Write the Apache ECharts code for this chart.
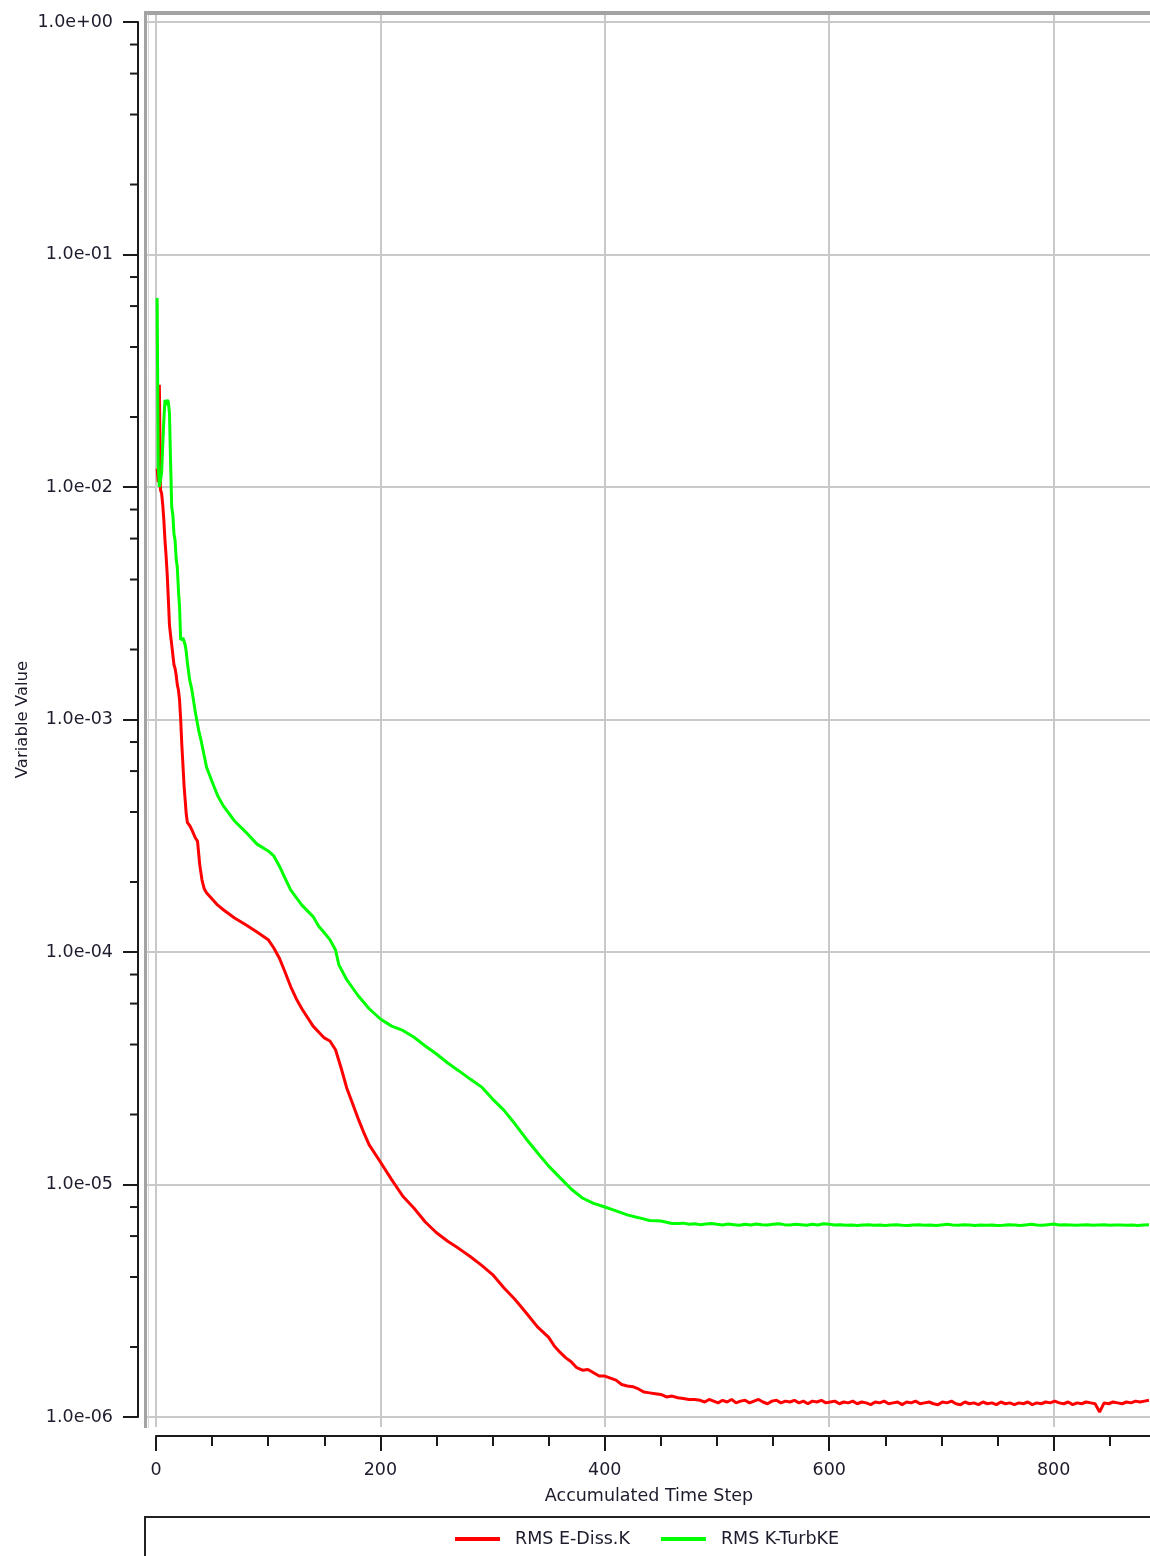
<!DOCTYPE html>
<html><head><meta charset="utf-8">
<script src="https://cdn.jsdelivr.net/npm/echarts@6/dist/echarts.min.js"></script>
<style>html,body{margin:0;padding:0;background:#fff}#c{width:1150px;height:1556px}</style>
</head><body><div id="c"></div>
<script>
const seriesNames = ['RMS E-Diss.K', 'RMS K-TurbKE'];
const xAxisTitle = 'Accumulated Time Step';
const yAxisTitle = 'Variable Value';

const redSteps = [1,2,3,4,5,6,7,8,9,10,11,12,13,14,15,16,17,18,19,20,21,22,23,24,25,26,27,28,30,32,35,37,39,41,43,45,50,55,60,70,80,90,100,105,110,115,120,125,130,140,150,155,160,165,170,175,180,185,190,200,210,220,230,240,250,260,270,280,290,300,310,320,330,340,350,355,360,365,370,375,380,385,390,395,400,405,410,415,420,425,430,435,440,445,450,455,460,465,470,475,480,
485,489,493,497,501,505,509,513,517,521,
525,529,533,537,541,545,549,553,557,561,
565,569,573,577,581,585,589,593,597,601,
605,609,613,617,621,625,629,633,637,641,
645,649,653,657,661,665,669,673,677,681,
685,689,693,697,701,705,709,713,717,721,
725,729,733,737,741,745,749,753,757,761,
765,769,773,777,781,785,789,793,797,801,
805,809,813,817,821,825,829,833,837,841,
845,849,853,857,861,865,869,873,877,881,
885];
const redValues = [1.2e-2,1.05e-2,2.75e-2,9.7e-3,9.4e-3,8.4e-3,7.2e-3,5.9e-3,5.05e-3,4.2e-3,3.3e-3,2.55e-3,2.3e-3,2.1e-3,1.9e-3,1.72e-3,1.66e-3,1.55e-3,1.41e-3,1.34e-3,1.21e-3,1.0e-3,7.8e-4,6.4e-4,5.2e-4,4.5e-4,3.9e-4,3.6e-4,3.5e-4,3.35e-4,3.1e-4,3.0e-4,2.37e-4,2.04e-4,1.87e-4,1.8e-4,1.69e-4,1.59e-4,1.52e-4,1.4e-4,1.31e-4,1.22e-4,1.13e-4,1.04e-4,9.4e-5,8.2e-5,7.1e-5,6.3e-5,5.7e-5,4.8e-5,4.27e-5,4.14e-5,3.8e-5,3.17e-5,2.6e-5,2.24e-5,1.93e-5,1.68e-5,1.48e-5,1.25e-5,1.05e-5,8.9e-6,7.9e-6,6.9e-6,6.2e-6,5.7e-6,5.3e-6,4.9e-6,4.5e-6,4.1e-6,3.6e-6,3.2e-6,2.8e-6,2.44e-6,2.2e-6,2.02e-6,1.9e-6,1.8e-6,1.73e-6,1.63e-6,1.59e-6,1.6e-6,1.55e-6,1.5e-6,1.5e-6,1.47e-6,1.44e-6,1.38e-6,1.36e-6,1.35e-6,1.32e-6,1.28e-6,1.27e-6,1.26e-6,1.25e-6,1.22e-6,1.23e-6,1.21e-6,1.2e-6,1.19e-6,1.19e-6,
1.18e-6,1.16e-6,1.19e-6,1.17e-6,1.15e-6,1.18e-6,1.16e-6,1.19e-6,1.15e-6,1.17e-6,
1.18e-6,1.15e-6,1.17e-6,1.19e-6,1.16e-6,1.14e-6,1.17e-6,1.18e-6,1.15e-6,1.17e-6,
1.16e-6,1.18e-6,1.15e-6,1.17e-6,1.14e-6,1.17e-6,1.16e-6,1.18e-6,1.15e-6,1.16e-6,
1.17e-6,1.14e-6,1.16e-6,1.15e-6,1.17e-6,1.14e-6,1.16e-6,1.15e-6,1.13e-6,1.16e-6,
1.15e-6,1.17e-6,1.14e-6,1.15e-6,1.16e-6,1.13e-6,1.16e-6,1.15e-6,1.17e-6,1.14e-6,
1.15e-6,1.16e-6,1.14e-6,1.13e-6,1.16e-6,1.15e-6,1.17e-6,1.14e-6,1.13e-6,1.16e-6,
1.14e-6,1.15e-6,1.13e-6,1.16e-6,1.14e-6,1.15e-6,1.13e-6,1.16e-6,1.14e-6,1.15e-6,
1.13e-6,1.15e-6,1.14e-6,1.16e-6,1.13e-6,1.15e-6,1.14e-6,1.16e-6,1.15e-6,1.17e-6,
1.15e-6,1.14e-6,1.16e-6,1.13e-6,1.15e-6,1.14e-6,1.16e-6,1.15e-6,1.14e-6,1.05e-6,
1.15e-6,1.14e-6,1.16e-6,1.15e-6,1.14e-6,1.16e-6,1.15e-6,1.17e-6,1.16e-6,1.17e-6,
1.18e-6];

const greenSteps = [1,2,3,4,5,6,7,8,9,10,11,12,13,14,15,16,17,18,19,20,21,22,24,26,27,28,30,32,35,38,40,45,50,55,60,70,80,90,100,105,110,115,120,130,140,145,150,155,160,163,170,180,190,200,210,220,230,240,250,260,270,280,290,300,310,320,330,340,350,360,370,380,390,400,410,420,430,440,450,460,
465,470,475,480,485,490,495,500,505,510,515,520,525,530,535,540,545,550,555,560,565,570,575,580,585,590,595,600,605,610,615,620,625,630,635,640,645,650,655,660,665,670,675,680,685,690,695,700,705,710,715,720,725,730,735,740,745,750,755,760,765,770,775,780,785,790,795,800,805,810,815,820,825,830,835,840,845,850,855,860,865,870,875,880,885];
const greenValues = [6.5e-2,1.22e-2,1.0e-2,1.07e-2,1.15e-2,1.52e-2,1.94e-2,2.37e-2,2.25e-2,2.37e-2,2.32e-2,2.08e-2,1.27e-2,8.2e-3,7.6e-3,6.3e-3,5.9e-3,4.9e-3,4.5e-3,3.6e-3,3.05e-3,2.2e-3,2.24e-3,2.09e-3,1.95e-3,1.75e-3,1.48e-3,1.34e-3,1.08e-3,9.0e-4,8.2e-4,6.25e-4,5.4e-4,4.7e-4,4.25e-4,3.66e-4,3.28e-4,2.91e-4,2.72e-4,2.59e-4,2.34e-4,2.08e-4,1.85e-4,1.59e-4,1.42e-4,1.29e-4,1.21e-4,1.13e-4,1.02e-4,8.8e-5,7.6e-5,6.5e-5,5.7e-5,5.15e-5,4.8e-5,4.6e-5,4.3e-5,3.94e-5,3.64e-5,3.33e-5,3.08e-5,2.84e-5,2.63e-5,2.33e-5,2.09e-5,1.82e-5,1.57e-5,1.37e-5,1.2e-5,1.07e-5,9.56e-6,8.75e-6,8.3e-6,8.0e-6,7.7e-6,7.4e-6,7.2e-6,7.0e-6,6.97e-6,6.8e-6,
6.8e-6,6.82e-6,6.75e-6,6.78e-6,6.72e-6,6.76e-6,6.8e-6,6.74e-6,6.7e-6,6.76e-6,6.72e-6,6.68e-6,6.74e-6,6.7e-6,6.76e-6,6.72e-6,6.7e-6,6.74e-6,6.78e-6,6.72e-6,6.7e-6,6.74e-6,6.72e-6,6.68e-6,6.74e-6,6.7e-6,6.78e-6,6.74e-6,6.7e-6,6.72e-6,6.68e-6,6.7e-6,6.66e-6,6.7e-6,6.72e-6,6.68e-6,6.7e-6,6.66e-6,6.7e-6,6.72e-6,6.68e-6,6.66e-6,6.7e-6,6.72e-6,6.68e-6,6.7e-6,6.66e-6,6.7e-6,6.74e-6,6.7e-6,6.68e-6,6.72e-6,6.7e-6,6.66e-6,6.7e-6,6.68e-6,6.7e-6,6.66e-6,6.68e-6,6.72e-6,6.7e-6,6.66e-6,6.7e-6,6.74e-6,6.7e-6,6.68e-6,6.72e-6,6.76e-6,6.7e-6,6.72e-6,6.7e-6,6.68e-6,6.7e-6,6.72e-6,6.68e-6,6.7e-6,6.72e-6,6.68e-6,6.7e-6,6.7e-6,6.68e-6,6.7e-6,6.66e-6,6.7e-6,6.72e-6];

const yMinorTickValues = [0.8,0.6,0.4,0.2,0.08,0.06,0.04,0.02,0.008,0.006,0.004,0.002,8e-4,6e-4,4e-4,2e-4,8e-5,6e-5,4e-5,2e-5,8e-6,6e-6,4e-6,2e-6];

const FONT = 'DejaVu Sans';
const TXT = '#1c1c2c';
const AX = '#1a1a1a';
const GRIDC = '#c9c9c9';

function fmtExp(v) {
  const parts = v.toExponential(1).split('e');
  const n = parseInt(parts[1], 10);
  return parts[0] + 'e' + (n < 0 ? '-' : '+') + String(Math.abs(n)).padStart(2, '0');
}

const chart = echarts.init(document.getElementById('c'), null, {renderer: 'canvas'});
chart.setOption({
  animation: false,
  backgroundColor: '#fff',
  textStyle: {fontFamily: FONT},
  grid: [
    {left: 156, right: -128, top: 22, bottom: 139, outerBoundsMode: 'none', containLabel: false},
    {left: 156, right: -128, top: 13, bottom: 129, outerBoundsMode: 'none', containLabel: false},
    {left: 147, right: -128, top: 22, bottom: 139, outerBoundsMode: 'none', containLabel: false}
  ],
  xAxis: [
    {
      gridIndex: 0, type: 'value', min: 0, max: 1000, interval: 200, offset: 19,
      name: xAxisTitle, nameLocation: 'middle', nameGap: 51, nameMoveOverlap: false,
      nameTextStyle: {fontFamily: FONT, fontSize: 17.5, color: TXT, padding: [0, 136, 0, 0]},
      axisLine: {show: true, onZero: false, lineStyle: {color: AX, width: 2}},
      axisTick: {show: true, length: 15, lineStyle: {color: AX, width: 2}},
      minorTick: {show: true, splitNumber: 4, length: 10, lineStyle: {color: AX, width: 2}},
      axisLabel: {fontFamily: FONT, fontSize: 17.5, color: TXT, margin: 25},
      splitLine: {show: false}
    },
    {
      gridIndex: 1, type: 'value', min: 0, max: 1000, interval: 200,
      axisLine: {show: false}, axisTick: {show: false}, axisLabel: {show: false},
      splitLine: {show: true, lineStyle: {color: GRIDC, width: 2}}
    },
    {
      gridIndex: 2, type: 'value', min: 0, max: 1, show: false
    }
  ],
  yAxis: [
    {
      gridIndex: 0, type: 'log', logBase: 10, min: 1e-6, max: 1, offset: 18,
      name: yAxisTitle, nameLocation: 'middle', nameGap: 107, nameMoveOverlap: false,
      nameTextStyle: {fontFamily: FONT, fontSize: 16.5, color: TXT},
      axisLine: {show: true, onZero: false, lineStyle: {color: AX, width: 2}},
      axisTick: {show: true, length: 15, lineStyle: {color: AX, width: 2}},
      axisLabel: {fontFamily: FONT, fontSize: 17.5, color: TXT, margin: 25, formatter: fmtExp},
      splitLine: {show: false}
    },
    {
      gridIndex: 1, type: 'value', min: 0, max: 1, show: false
    },
    {
      gridIndex: 2, type: 'log', logBase: 10, min: 1e-6, max: 1,
      axisLine: {show: false}, axisTick: {show: false}, axisLabel: {show: false},
      splitLine: {show: true, lineStyle: {color: GRIDC, width: 2}}
    }
  ],
  legend: {
    data: seriesNames,
    left: 450, top: 1525,
    icon: 'rect', itemWidth: 45, itemHeight: 4, itemGap: 31,
    textStyle: {fontFamily: FONT, fontSize: 17.5, color: TXT, padding: [0, 0, 0, 10]}
  },
  graphic: [
    {type: 'line', shape: {x1: 144, y1: 13, x2: 1150, y2: 13}, style: {stroke: '#a3a3a3', lineWidth: 4}, z: 100},
    {type: 'line', shape: {x1: 145.5, y1: 11, x2: 145.5, y2: 1428}, style: {stroke: '#a3a3a3', lineWidth: 3}, z: 100},
    {type: 'line', shape: {x1: 148.5, y1: 15, x2: 148.5, y2: 1428}, style: {stroke: '#d6d6d6', lineWidth: 1}, z: 100},
    {type: 'rect', shape: {x: 145, y: 1517, width: 1030, height: 60}, style: {fill: 'none', stroke: '#222', lineWidth: 2}, z: 100}
  ],
  series: [
    {
      name: seriesNames[0], type: 'line', xAxisIndex: 0, yAxisIndex: 0,
      data: redSteps.map((s, i) => [s, redValues[i]]),
      showSymbol: false, symbol: 'none', color: '#ff0000',
      lineStyle: {color: '#ff0000', width: 3}, z: 3
    },
    {
      name: seriesNames[1], type: 'line', xAxisIndex: 0, yAxisIndex: 0,
      data: greenSteps.map((s, i) => [s, greenValues[i]]),
      showSymbol: false, symbol: 'none', color: '#00ff00',
      lineStyle: {color: '#00ff00', width: 3}, z: 4
    },
    {
      name: 'yMinorTicks', type: 'custom', xAxisIndex: 0, yAxisIndex: 0,
      clip: false, silent: true,
      data: yMinorTickValues.map(v => [0, v]),
      renderItem: function (params, api) {
        const p = api.coord([api.value(0), api.value(1)]);
        return {
          type: 'line',
          shape: {x1: p[0] - 18 - 8, y1: p[1], x2: p[0] - 18, y2: p[1]},
          style: {stroke: AX, lineWidth: 2}
        };
      }
    }
  ]
});
</script>
</body></html>
